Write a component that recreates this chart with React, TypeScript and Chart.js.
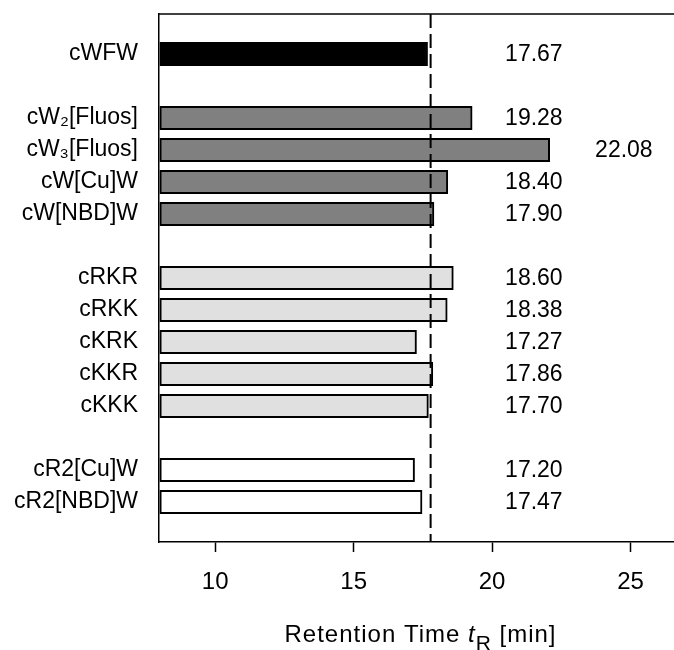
import React, { useEffect, useRef } from 'react';
import { Chart, registerables } from 'chart.js';

Chart.register(...registerables);

// ---- data ----
const categories = [
  'cWFW',
  '',
  'cW₂[Fluos]',
  'cW₃[Fluos]',
  'cW[Cu]W',
  'cW[NBD]W',
  '',
  'cRKR',
  'cRKK',
  'cKRK',
  'cKKR',
  'cKKK',
  '',
  'cR2[Cu]W',
  'cR2[NBD]W',
];

const retentionTimes: (number | null)[] = [
  17.67, null, 19.28, 22.08, 18.4, 17.9, null, 18.6, 18.38, 17.27, 17.86, 17.7, null, 17.2, 17.47,
];

const barColors = [
  '#000000', '', '#808080', '#808080', '#808080', '#808080', '',
  '#e0e0e0', '#e0e0e0', '#e0e0e0', '#e0e0e0', '#e0e0e0', '',
  '#ffffff', '#ffffff',
];

const xTicks = [10, 15, 20, 25];
const referenceTime = 17.78;
const xMin = 7.97;
const xMax = 26.57;
const barBase = 8;
const yMin = -1.25;
const yMax = categories.length - 1 + 1.25;

const FONT = '"Liberation Sans", Arial, sans-serif';

export default function App() {
  const canvasRef = useRef<HTMLCanvasElement | null>(null);

  useEffect(() => {
    const canvas = canvasRef.current;
    if (!canvas) return;

    const points = retentionTimes
      .map((v, i) => (v === null ? null : { x: v, y: i }))
      .filter((p) => p !== null) as { x: number; y: number }[];
    const colors = points.map((p) => barColors[p.y]);

    const overlay = {
      id: 'overlay',
      afterDatasetsDraw(chart: any) {
        const { ctx, chartArea, scales } = chart;
        const xs = scales.x;
        const ys = scales.y;
        ctx.save();
        // top frame line
        ctx.strokeStyle = '#000';
        ctx.lineWidth = 1.5;
        ctx.beginPath();
        ctx.moveTo(chartArea.left, chartArea.top);
        ctx.lineTo(chartArea.right, chartArea.top);
        ctx.stroke();
        // reference dashed line
        const rx = xs.getPixelForValue(referenceTime);
        ctx.lineWidth = 2;
        ctx.setLineDash([14, 6]);
        ctx.beginPath();
        ctx.moveTo(rx, chartArea.top);
        ctx.lineTo(rx, chartArea.bottom);
        ctx.stroke();
        ctx.setLineDash([]);
        // value labels
        ctx.fillStyle = '#000';
        ctx.font = `23px ${FONT}`;
        ctx.textAlign = 'left';
        ctx.textBaseline = 'middle';
        retentionTimes.forEach((v, i) => {
          if (v === null) return;
          const pos = v > 21 ? v + 1.64 : 20.47;
          ctx.fillText(v.toFixed(2), xs.getPixelForValue(pos), ys.getPixelForValue(i) + 1);
        });
        // x axis title with italic t and subscript R
        const parts = [
          { text: 'Retention Time ', font: `24px ${FONT}`, dy: 0 },
          { text: 't', font: `italic 24px ${FONT}`, dy: 0 },
          { text: 'R', font: `21px ${FONT}`, dy: 8 },
          { text: ' [min]', font: `24px ${FONT}`, dy: 0 },
        ];
        (ctx as any).letterSpacing = '1px';
        ctx.textBaseline = 'alphabetic';
        let total = 0;
        parts.forEach((p) => {
          ctx.font = p.font;
          total += ctx.measureText(p.text).width;
        });
        let x = (chartArea.left + chartArea.right) / 2 - total / 2 + 4;
        const baseY = 641.5;
        parts.forEach((p) => {
          ctx.font = p.font;
          ctx.fillText(p.text, x, baseY + p.dy);
          x += ctx.measureText(p.text).width;
        });
        (ctx as any).letterSpacing = '0px';
        ctx.restore();
      },
    };

    const chart = new Chart(canvas, {
      type: 'bar',
      data: {
        datasets: [
          {
            data: points as any,
            backgroundColor: colors,
            borderColor: '#000000',
            borderWidth: 2,
            borderSkipped: false,
            barThickness: 23.5,
            base: barBase,
          } as any,
        ],
      },
      options: {
        indexAxis: 'y',
        animation: false,
        responsive: false,
        maintainAspectRatio: false,
        layout: { padding: { top: 14, left: 0, right: 0, bottom: 0 } },
        plugins: {
          legend: { display: false },
          tooltip: { enabled: false },
        },
        scales: {
          x: {
            type: 'linear',
            min: xMin,
            max: xMax,
            bounds: 'data',
            afterBuildTicks: (axis: any) => {
              axis.ticks = xTicks.map((v) => ({ value: v }));
              axis.min = xMin;
              axis.max = xMax;
            },
            afterFit: (axis: any) => {
              axis.height = 108;
              axis.paddingLeft = 0;
              axis.paddingRight = 0;
            },
            grid: {
              drawOnChartArea: false,
              drawTicks: true,
              tickLength: 10,
              tickColor: '#000',
              tickWidth: 1.5,
            },
            border: { display: true, color: '#000', width: 1.5 },
            ticks: {
              font: { family: FONT, size: 24 },
              color: '#000',
              padding: 16,
              maxRotation: 0,
              autoSkip: false,
            },
          },
          y: {
            type: 'linear',
            reverse: true,
            min: yMin,
            max: yMax,
            bounds: 'data',
            offset: false,
            afterBuildTicks: (axis: any) => {
              axis.ticks = categories
                .map((c, i) => ({ c, value: i }))
                .filter((t) => t.c !== '')
                .map((t) => ({ value: t.value }));
              axis.min = yMin;
              axis.max = yMax;
            },
            afterFit: (axis: any) => {
              axis.width = 159;
              axis.paddingTop = 0;
              axis.paddingBottom = 0;
            },
            grid: { drawOnChartArea: false, drawTicks: false, offset: false },
            border: { display: true, color: '#000', width: 1.5 },
            ticks: {
              callback: (v: any) => categories[v as number] ?? '',
              font: { family: FONT, size: 23 },
              color: '#000',
              padding: 21,
              autoSkip: false,
            },
          },
        },
      },
      plugins: [overlay],
    } as any);

    return () => chart.destroy();
  }, []);

  return (
    <div style={{ position: 'fixed', left: 0, top: 0, width: 674, height: 650, background: '#fff' }}>
      <canvas ref={canvasRef} width={674} height={650} />
    </div>
  );
}
